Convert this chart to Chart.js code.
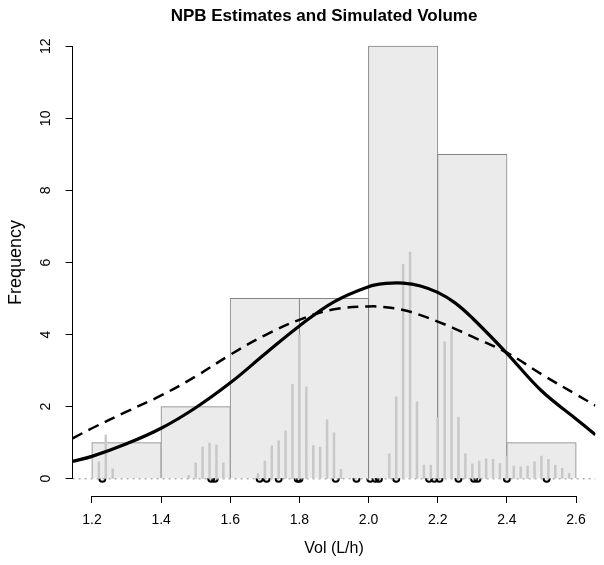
<!DOCTYPE html>
<html>
<head>
<meta charset="utf-8">
<title>NPB Estimates and Simulated Volume</title>
<script src="https://cdn.jsdelivr.net/npm/chart.js@4.4.1/dist/chart.umd.min.js"></script>
<style>
  html, body { margin: 0; padding: 0; background: #fff; }
  canvas { display: block; }
</style>
</head>
<body>
<canvas id="volChart" width="604" height="565"></canvas>
<script>
"use strict";

// histogram of NPB estimates (bin mid points, width 0.2)
const binMids = [1.3, 1.5, 1.7, 1.9, 2.1, 2.3, 2.5];
const binCounts = [1, 2, 5, 5, 12, 9, 1];

// simulated volume, scaled frequency spikes
const spikeX = [1.22, 1.24, 1.26, 1.48, 1.50, 1.52, 1.54, 1.56, 1.58,
  1.68, 1.70, 1.72, 1.74, 1.76, 1.78, 1.80, 1.82, 1.84, 1.86, 1.88, 1.90, 1.92,
  2.06, 2.08, 2.10, 2.12, 2.14, 2.16, 2.18, 2.20, 2.22, 2.24, 2.26, 2.28, 2.30,
  2.32, 2.34, 2.36, 2.38, 2.40, 2.42, 2.44, 2.46, 2.48, 2.50, 2.52, 2.54, 2.56, 2.58];
const spikeY = [0.48, 1.22, 0.28, 0.10, 0.44, 0.89, 1.00, 0.95, 0.45,
  0.15, 0.50, 0.92, 1.06, 1.34, 2.63, 4.00, 2.56, 0.93, 0.89, 1.64, 1.28, 0.27,
  0.70, 2.28, 5.96, 6.30, 2.14, 0.39, 0.39, 1.71, 3.81, 4.11, 1.72, 0.70, 0.42,
  0.50, 0.56, 0.55, 0.43, 0.62, 0.36, 0.34, 0.36, 0.48, 0.64, 0.55, 0.39, 0.30, 0.16];

// individual estimates (rug at zero)
const rugX = [1.23, 1.545, 1.555, 1.685, 1.705, 1.74, 1.795, 1.80, 1.905, 1.965,
  2.005, 2.02, 2.03, 2.08, 2.175, 2.19, 2.205, 2.26, 2.305, 2.315, 2.40, 2.515];

// density curves
const curveX = [1.144, 1.2, 1.3, 1.4, 1.5, 1.6, 1.7, 1.8, 1.9, 2.0, 2.05, 2.1, 2.15, 2.2, 2.25, 2.3, 2.4, 2.5, 2.6, 2.656];
const solidY = [0.48, 0.62, 0.97, 1.40, 1.97, 2.66, 3.46, 4.24, 4.91, 5.33, 5.42, 5.43, 5.35, 5.17, 4.88, 4.46, 3.48, 2.44, 1.66, 1.22];
const dashedY = [1.12, 1.40, 1.86, 2.31, 2.84, 3.44, 3.98, 4.41, 4.70, 4.78, 4.76, 4.68, 4.54, 4.36, 4.16, 3.94, 3.50, 2.90, 2.34, 2.03];

const xTicks = [1.2, 1.4, 1.6, 1.8, 2.0, 2.2, 2.4, 2.6];
const yTicks = [0, 2, 4, 6, 8, 10, 12];
const xMin = 1.144, xMax = 2.656;
const yMin = -0.48, yMax = 12.48;

const FONT = "'Liberation Sans', Arial, Helvetica, sans-serif";
Chart.defaults.font.family = FONT;
Chart.defaults.color = "#000";

// spikes as one broken line: 0 -> height -> gap
const spikePts = [];
spikeX.forEach((x, i) => {
  spikePts.push({x: x, y: 0}, {x: x, y: spikeY[i]}, {x: x, y: null});
});

// R style axes + rotated y labels + main title
const rAxes = {
  id: "rAxes",
  afterDraw(chart) {
    const {ctx, chartArea, scales} = chart;
    const xs = scales.x, ys = scales.y;
    ctx.save();
    ctx.strokeStyle = "#000";
    ctx.lineWidth = 1;
    ctx.beginPath();
    const by = Math.round(chartArea.bottom) + 0.5;
    ctx.moveTo(xs.getPixelForValue(xTicks[0]), by);
    ctx.lineTo(xs.getPixelForValue(xTicks[xTicks.length - 1]), by);
    const lx = Math.round(chartArea.left) - 0.5;
    ctx.moveTo(lx, ys.getPixelForValue(yTicks[0]));
    ctx.lineTo(lx, ys.getPixelForValue(yTicks[yTicks.length - 1]));
    ctx.stroke();

    ctx.fillStyle = "#000";
    ctx.font = "14px " + FONT;
    ctx.textAlign = "center";
    ctx.textBaseline = "middle";
    ys.ticks.forEach(t => {
      ctx.save();
      ctx.translate(46, ys.getPixelForValue(t.value));
      ctx.rotate(-Math.PI / 2);
      ctx.fillText(String(t.value), 0, 0);
      ctx.restore();
    });

    ctx.font = "bold 17px " + FONT;
    ctx.fillText("NPB Estimates and Simulated Volume", 324, 16);
    ctx.restore();
  }
};

new Chart(document.getElementById("volChart"), {
  data: {
    datasets: [
      {
        type: "line",
        label: "estimates",
        data: rugX.map(x => ({x: x, y: 0})),
        showLine: false,
        pointRadius: 3,
        pointBorderWidth: 2,
        pointBorderColor: "#000",
        pointBackgroundColor: "rgba(0,0,0,0)",
        order: 6
      },
      {
        type: "bar",
        label: "histogram",
        data: binMids.map((x, i) => ({x: x, y: binCounts[i]})),
        backgroundColor: "#ebebeb",
        borderColor: "#858585",
        borderWidth: 1,
        inflateAmount: 0.5,
        barPercentage: 1,
        categoryPercentage: 1,
        grouped: false,
        order: 5
      },
      {
        type: "line",
        label: "zero",
        data: [{x: xMin, y: 0}, {x: xMax, y: 0}],
        borderColor: "#b0b0b0",
        borderWidth: 1.5,
        borderDash: [2, 4],
        pointRadius: 0,
        order: 4
      },
      {
        type: "line",
        label: "simulated",
        data: spikePts,
        borderColor: "#c8c8c8",
        borderWidth: 2.5,
        spanGaps: false,
        pointRadius: 0,
        order: 3
      },
      {
        type: "line",
        label: "dashed",
        data: curveX.map((x, i) => ({x: x, y: dashedY[i]})),
        borderColor: "#000",
        borderWidth: 2.5,
        borderDash: [11, 7],
        tension: 0.4,
        pointRadius: 0,
        order: 2
      },
      {
        type: "line",
        label: "solid",
        data: curveX.map((x, i) => ({x: x, y: solidY[i]})),
        borderColor: "#000",
        borderWidth: 3.2,
        tension: 0.4,
        pointRadius: 0,
        order: 1
      }
    ]
  },
  options: {
    responsive: false,
    animation: false,
    layout: {padding: {top: 29, right: 8.6, left: 0, bottom: 0}},
    plugins: {
      legend: {display: false},
      tooltip: {enabled: false},
      title: {display: false}
    },
    scales: {
      x: {
        type: "linear",
        offset: false,
        min: xMin,
        max: xMax,
        afterBuildTicks: s => { s.ticks = xTicks.map(v => ({value: v})); },
        afterFit: s => { s.height = 69; },
        grid: {offset: false, drawOnChartArea: false, drawTicks: true, tickLength: 7, color: "#000"},
        border: {display: false},
        ticks: {
          color: "#000",
          font: {size: 14},
          padding: 9,
          maxRotation: 0,
          autoSkip: false,
          callback: v => v.toFixed(1)
        },
        title: {
          display: true,
          text: "Vol (L/h)",
          color: "#000",
          font: {size: 16},
          padding: {top: 0, bottom: 7}
        }
      },
      y: {
        type: "linear",
        min: yMin,
        max: yMax,
        afterBuildTicks: s => { s.ticks = yTicks.map(v => ({value: v})); },
        afterFit: s => { s.width = 72.6; },
        grid: {drawOnChartArea: false, drawTicks: true, tickLength: 7, color: "#000"},
        border: {display: false},
        ticks: {display: false},
        title: {
          display: true,
          text: "Frequency",
          color: "#000",
          font: {size: 18},
          padding: {top: 5, bottom: 0}
        }
      }
    }
  },
  plugins: [rAxes]
});
</script>
</body>
</html>
